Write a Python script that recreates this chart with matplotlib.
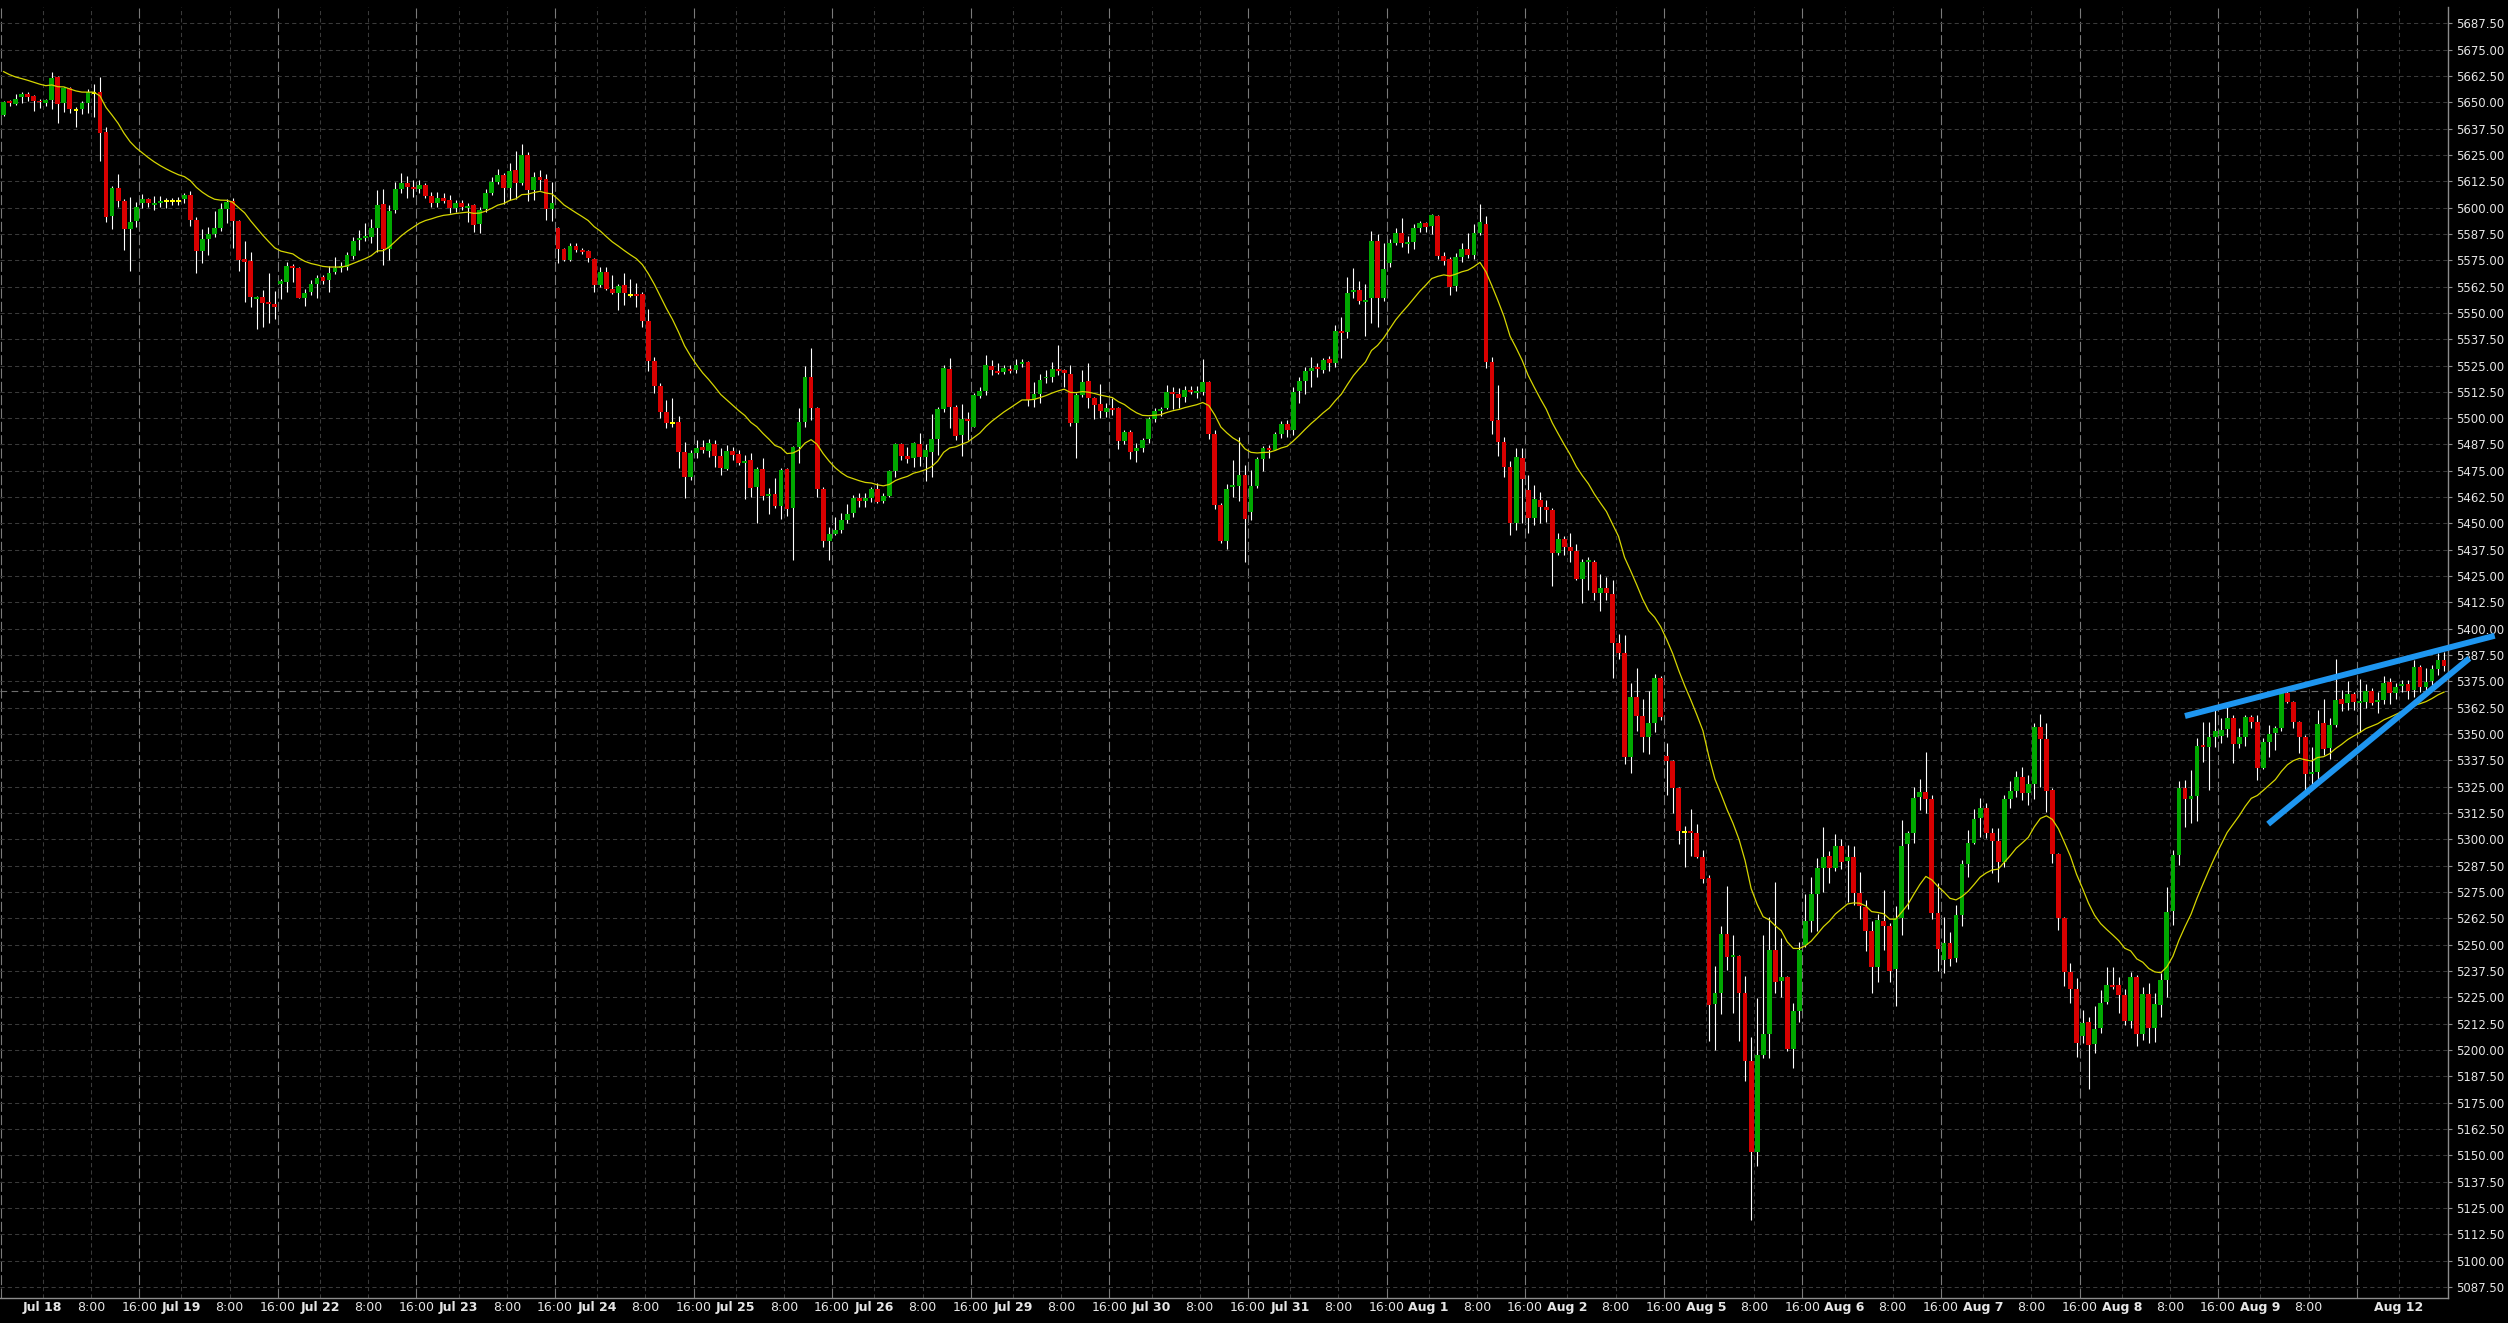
#!/usr/bin/env python3
"""Hourly candlestick chart, Jul 18 - Aug 12, with EMA(20) and two trend lines."""

import matplotlib

matplotlib.use("Agg")
import matplotlib.pyplot as plt
import numpy as np

# hourly bars, 23 per session; first 7 bars are the Jul 17 evening session
opens = [
    5643.9, 5650.3, 5649.2, 5652.3, 5654.0, 5653.0, 5650.7,
    5649.8, 5651.1, 5662.0, 5649.8, 5656.8, 5646.5, 5646.8, 5649.8, 5654.5, 5654.9, 5635.9, 5596.2, 5609.3, 5603.1, 5589.8, 5593.6, 5602.2, 5604.0, 5601.5, 5602.3, 5603.3, 5603.3, 5603.3,
    5604.1, 5606.0, 5594.1, 5579.4, 5585.1, 5587.5, 5590.5, 5599.3, 5603.1, 5593.6, 5575.6, 5574.8, 5556.6, 5557.5, 5555.3, 5554.2, 5563.9, 5564.8, 5572.3, 5571.3, 5557.2, 5559.7, 5563.7,
    5567.0, 5565.5, 5569.5, 5571.4, 5571.9, 5577.0, 5584.6, 5585.7, 5586.2, 5590.4, 5601.7, 5580.3, 5598.8, 5608.8, 5611.8, 5609.9, 5608.8, 5610.7, 5605.6, 5602.3, 5604.5, 5603.6, 5599.9,
    5602.3, 5599.9, 5601.2, 5592.3, 5599.3, 5607.0, 5612.3, 5615.4, 5609.4, 5617.8, 5611.5, 5624.9, 5608.3, 5614.5, 5613.5, 5599.3, 5590.4, 5580.3, 5575.1, 5581.7, 5579.8, 5579.4, 5575.6,
    5563.2, 5569.5, 5561.2, 5559.6, 5563.2, 5558.6, 5558.9, 5558.8, 5546.1, 5527.3, 5515.4, 5503.1, 5497.9, 5498.2, 5484.1, 5472.2, 5483.3, 5486.3, 5484.6, 5487.7, 5482.0, 5475.9, 5484.4,
    5482.8, 5478.5, 5480.1, 5467.5, 5475.9, 5463.2, 5464.0, 5458.5, 5475.9, 5457.5, 5486.3, 5498.3, 5519.5, 5505.0, 5466.5, 5441.7, 5445.2, 5446.9, 5451.6, 5454.8, 5462.2, 5460.7, 5462.2,
    5466.5, 5460.7, 5463.2, 5475.1, 5487.7, 5482.0, 5480.9, 5487.7, 5481.7, 5484.1, 5490.1, 5504.3, 5523.3, 5505.5, 5492.0, 5499.6, 5496.0, 5510.7, 5512.9, 5524.7, 5522.4, 5522.1, 5523.2,
    5522.9, 5525.7, 5526.8, 5508.6, 5511.5, 5518.9, 5519.7, 5523.3, 5522.9, 5520.9, 5497.8, 5511.0, 5517.6, 5509.7, 5506.7, 5502.8, 5505.0, 5505.0, 5489.3, 5493.6, 5484.6, 5485.7, 5490.1,
    5499.6, 5503.4, 5504.9, 5512.4, 5511.5, 5509.9, 5513.4, 5512.1, 5512.6, 5517.2, 5492.5, 5458.8, 5441.7, 5467.2, 5468.0, 5473.0, 5455.6, 5468.0, 5480.6, 5485.8, 5484.9, 5492.5, 5497.2,
    5494.4, 5512.7, 5517.6, 5522.4, 5524.3, 5522.9, 5528.1, 5526.3, 5541.4, 5541.1, 5559.7, 5560.8, 5555.4, 5556.9, 5584.1, 5556.9, 5573.5, 5583.3, 5587.7, 5582.8, 5583.8, 5590.4, 5592.8,
    5591.4, 5596.1, 5577.1, 5575.4, 5562.7, 5576.7, 5580.3, 5577.4, 5587.7, 5592.2, 5526.8, 5499.1, 5488.8, 5477.0, 5450.4, 5481.2, 5465.9, 5452.4, 5461.1, 5457.7, 5456.4, 5436.1, 5442.6,
    5438.7, 5437.1, 5423.6, 5431.6, 5431.9, 5417.1, 5419.5, 5416.5, 5393.1, 5388.5, 5339.1, 5367.8, 5358.5, 5348.8, 5355.1, 5376.5, 5339.5, 5337.1, 5324.5, 5303.5, 5303.9, 5302.9, 5291.9,
    5281.5, 5221.7, 5227.1, 5255.1, 5244.1, 5244.5, 5227.1, 5194.7, 5151.5, 5197.5, 5207.5, 5247.5, 5232.7, 5234.5, 5200.7, 5218.7, 5250.1, 5261.5, 5274.1, 5286.5, 5292.1, 5286.5, 5296.7,
    5289.9, 5291.5, 5274.7, 5267.7, 5256.7, 5239.5, 5261.5, 5258.7, 5238.7, 5262.5, 5297.7, 5303.1, 5320.1, 5322.6, 5319.0, 5265.2, 5242.8, 5250.6, 5243.8, 5264.1, 5288.3, 5298.1, 5310.0,
    5314.8, 5303.2, 5299.2, 5289.4, 5319.2, 5323.1, 5329.5, 5321.9, 5326.3, 5353.5, 5347.7, 5323.5, 5293.1, 5262.8, 5237.2, 5229.0, 5206.7, 5213.5, 5202.7, 5210.6, 5223.0, 5230.9, 5230.9,
    5226.1, 5213.9, 5234.8, 5207.6, 5226.6, 5210.3, 5221.4, 5233.2, 5266.2, 5292.6, 5324.6, 5319.2, 5320.6, 5344.8, 5344.0, 5348.8, 5349.2, 5352.4, 5357.8, 5345.1, 5348.8, 5358.3, 5355.6,
    5334.0, 5346.4, 5350.6, 5353.0, 5369.3, 5365.4, 5355.9, 5348.8, 5330.9, 5332.1, 5355.1, 5343.5, 5354.3, 5366.5, 5364.6, 5369.0, 5364.9, 5365.4, 5370.6, 5365.1, 5366.2, 5374.9, 5369.3,
    5372.8, 5373.8, 5370.9, 5382.0, 5372.5, 5375.2, 5380.9, 5385.2,
]
highs = [
    5650.7, 5651.0, 5654.0, 5654.7, 5654.7, 5653.4, 5651.5,
    5651.7, 5664.4, 5662.5, 5657.4, 5657.2, 5647.9, 5650.7, 5656.3, 5658.7, 5662.0, 5638.1, 5610.0, 5615.9, 5604.1, 5605.0, 5602.6, 5606.3, 5604.4, 5605.5, 5605.5, 5604.4, 5604.4, 5605.2,
    5606.8, 5607.7, 5595.7, 5589.8, 5590.9, 5598.4, 5602.0, 5604.1, 5604.7, 5594.1, 5584.1, 5578.9, 5558.0, 5560.8, 5568.8, 5560.6, 5566.0, 5574.2, 5573.2, 5571.9, 5561.2, 5565.6, 5567.8,
    5567.8, 5572.3, 5576.7, 5574.0, 5578.9, 5585.8, 5589.3, 5592.5, 5594.4, 5608.3, 5608.8, 5601.2, 5612.3, 5616.5, 5615.0, 5613.1, 5613.1, 5611.5, 5607.4, 5607.4, 5606.7, 5605.8, 5603.6,
    5603.6, 5602.0, 5601.7, 5600.4, 5608.6, 5614.6, 5618.1, 5616.5, 5621.3, 5626.8, 5630.2, 5626.2, 5617.0, 5617.8, 5615.9, 5612.3, 5590.9, 5581.0, 5583.3, 5583.0, 5580.6, 5579.8, 5575.9,
    5571.9, 5571.9, 5568.0, 5563.7, 5568.8, 5566.2, 5564.0, 5560.0, 5551.7, 5529.2, 5516.5, 5508.6, 5509.4, 5501.0, 5488.8, 5484.9, 5489.6, 5489.6, 5490.0, 5489.6, 5485.7, 5487.1, 5486.5,
    5484.9, 5482.5, 5483.3, 5476.9, 5480.9, 5466.7, 5471.4, 5476.2, 5476.2, 5486.8, 5504.7, 5524.8, 5533.1, 5505.5, 5467.5, 5448.5, 5453.2, 5454.8, 5459.2, 5463.5, 5464.3, 5464.3, 5467.5,
    5469.0, 5464.3, 5475.4, 5488.4, 5488.4, 5486.5, 5488.8, 5492.8, 5487.7, 5501.8, 5505.5, 5525.2, 5528.7, 5506.2, 5506.7, 5503.1, 5512.1, 5514.9, 5530.0, 5527.6, 5526.0, 5525.2, 5525.2,
    5527.9, 5528.1, 5527.3, 5517.3, 5520.9, 5522.9, 5526.8, 5534.7, 5523.5, 5525.2, 5511.8, 5522.9, 5526.0, 5509.9, 5516.2, 5507.0, 5509.4, 5505.1, 5494.4, 5494.4, 5488.0, 5490.4, 5500.7,
    5504.7, 5505.1, 5515.7, 5514.9, 5514.2, 5515.3, 5515.4, 5515.3, 5527.9, 5517.8, 5494.4, 5459.6, 5468.6, 5480.1, 5491.2, 5477.8, 5475.4, 5481.7, 5486.9, 5487.2, 5493.6, 5498.6, 5499.1,
    5514.9, 5519.7, 5524.4, 5529.2, 5526.3, 5528.7, 5529.6, 5544.2, 5548.2, 5566.8, 5571.1, 5565.3, 5563.5, 5588.8, 5587.4, 5583.0, 5585.1, 5590.4, 5594.9, 5586.5, 5592.2, 5593.7, 5593.3,
    5596.9, 5596.4, 5579.0, 5576.7, 5578.6, 5583.0, 5587.7, 5592.0, 5601.5, 5596.0, 5529.2, 5515.7, 5491.2, 5479.8, 5486.0, 5486.0, 5473.0, 5468.3, 5465.1, 5461.1, 5457.2, 5445.3, 5444.2,
    5445.3, 5440.1, 5433.0, 5434.2, 5432.7, 5426.0, 5424.7, 5423.0, 5397.5, 5397.1, 5374.1, 5381.5, 5366.5, 5370.7, 5378.5, 5377.5, 5345.7, 5337.5, 5325.0, 5306.5, 5314.5, 5307.5, 5295.1,
    5283.1, 5240.1, 5258.7, 5277.7, 5254.5, 5245.0, 5235.1, 5206.1, 5224.7, 5254.5, 5263.1, 5279.7, 5253.1, 5235.1, 5222.5, 5251.1, 5274.1, 5282.1, 5291.1, 5306.1, 5294.7, 5302.5, 5300.1,
    5297.5, 5296.7, 5284.7, 5271.1, 5261.5, 5264.5, 5276.1, 5260.1, 5268.5, 5309.1, 5304.1, 5325.1, 5328.5, 5341.6, 5321.1, 5279.5, 5263.3, 5255.9, 5268.9, 5290.2, 5304.5, 5314.3, 5319.5,
    5317.1, 5305.2, 5305.2, 5321.1, 5327.7, 5332.5, 5334.5, 5330.6, 5355.1, 5359.5, 5355.1, 5324.2, 5293.5, 5263.3, 5241.2, 5234.0, 5219.0, 5215.8, 5220.9, 5228.5, 5239.6, 5239.6, 5234.8,
    5228.8, 5237.2, 5235.6, 5230.1, 5231.7, 5226.9, 5236.4, 5277.6, 5295.0, 5327.7, 5328.2, 5332.9, 5348.0, 5355.9, 5355.9, 5361.4, 5357.5, 5363.0, 5359.1, 5352.7, 5359.1, 5359.1, 5359.1,
    5348.0, 5354.3, 5354.0, 5371.2, 5370.9, 5365.9, 5356.4, 5349.6, 5344.0, 5361.4, 5366.9, 5357.5, 5385.5, 5370.9, 5375.2, 5370.1, 5376.1, 5373.8, 5371.7, 5370.1, 5377.6, 5376.5, 5374.1,
    5375.7, 5375.7, 5385.2, 5382.8, 5381.2, 5382.8, 5388.3, 5389.1,
]
lows = [
    5643.6, 5648.0, 5648.8, 5649.5, 5650.7, 5645.8, 5647.4,
    5648.4, 5646.8, 5640.3, 5645.4, 5644.7, 5638.4, 5644.4, 5645.1, 5643.2, 5622.3, 5593.2, 5590.0, 5600.4, 5579.9, 5570.0, 5590.9, 5599.8, 5600.4, 5598.9, 5600.4, 5600.0, 5601.2, 5601.2,
    5602.0, 5591.0, 5569.1, 5573.9, 5577.6, 5586.2, 5588.9, 5592.8, 5581.0, 5570.0, 5555.3, 5552.6, 5542.2, 5543.5, 5545.4, 5547.3, 5556.8, 5560.0, 5564.5, 5556.9, 5553.4, 5558.5, 5557.2,
    5563.6, 5559.9, 5568.4, 5569.5, 5570.3, 5575.4, 5579.8, 5584.1, 5583.0, 5579.0, 5572.7, 5575.1, 5597.2, 5607.0, 5604.4, 5605.2, 5606.7, 5604.4, 5600.4, 5600.1, 5602.0, 5597.2, 5598.0,
    5598.8, 5593.3, 5588.5, 5588.1, 5598.0, 5606.0, 5611.2, 5601.7, 5603.6, 5603.9, 5610.7, 5603.2, 5603.6, 5608.3, 5594.1, 5593.8, 5573.5, 5574.5, 5574.5, 5578.9, 5578.0, 5574.3, 5560.0,
    5562.2, 5560.9, 5559.0, 5551.3, 5553.7, 5557.7, 5552.9, 5543.4, 5522.5, 5511.8, 5500.2, 5495.2, 5496.0, 5476.2, 5461.9, 5470.6, 5480.9, 5483.3, 5481.7, 5476.9, 5473.0, 5475.4, 5480.1,
    5477.8, 5461.5, 5462.4, 5450.1, 5461.1, 5454.3, 5457.2, 5452.0, 5453.5, 5432.6, 5478.9, 5496.0, 5499.1, 5462.7, 5439.0, 5432.7, 5444.5, 5445.3, 5450.4, 5453.2, 5458.0, 5458.0, 5460.3,
    5459.8, 5459.5, 5462.7, 5472.2, 5480.1, 5478.9, 5476.9, 5477.3, 5470.3, 5471.9, 5482.5, 5503.1, 5495.2, 5489.6, 5482.0, 5489.6, 5495.7, 5509.4, 5511.0, 5520.5, 5520.9, 5520.9, 5521.3,
    5521.3, 5524.4, 5505.8, 5505.1, 5507.3, 5516.5, 5517.3, 5520.5, 5515.0, 5496.3, 5481.2, 5509.9, 5504.7, 5499.4, 5499.9, 5500.4, 5501.5, 5485.2, 5487.7, 5480.4, 5479.3, 5484.1, 5488.4,
    5498.3, 5501.0, 5504.2, 5504.2, 5504.7, 5507.5, 5511.5, 5509.6, 5511.0, 5490.0, 5456.7, 5440.9, 5437.9, 5462.7, 5460.8, 5431.9, 5451.6, 5466.7, 5475.1, 5480.9, 5484.9, 5490.4, 5490.9,
    5492.0, 5507.3, 5511.5, 5514.6, 5519.7, 5521.6, 5522.5, 5524.1, 5528.4, 5537.9, 5557.2, 5554.2, 5539.1, 5545.3, 5543.4, 5555.8, 5571.6, 5582.2, 5581.1, 5578.6, 5580.3, 5588.5, 5588.5,
    5587.4, 5575.4, 5572.7, 5558.5, 5560.4, 5574.1, 5575.9, 5575.4, 5586.9, 5523.6, 5492.5, 5482.2, 5472.2, 5444.5, 5446.9, 5450.1, 5445.6, 5449.3, 5450.1, 5450.8, 5420.5, 5435.0, 5435.0,
    5431.9, 5423.2, 5412.4, 5418.4, 5413.7, 5408.6, 5413.5, 5376.7, 5385.5, 5335.7, 5331.5, 5351.5, 5341.5, 5340.7, 5351.1, 5356.7, 5321.1, 5312.5, 5297.9, 5287.1, 5292.1, 5291.1, 5279.5,
    5204.1, 5200.1, 5217.1, 5238.1, 5217.5, 5204.5, 5185.5, 5119.5, 5145.1, 5196.1, 5196.1, 5227.1, 5225.1, 5199.5, 5191.5, 5213.5, 5249.1, 5256.1, 5256.5, 5275.1, 5279.1, 5285.1, 5286.1,
    5270.1, 5269.1, 5262.1, 5247.1, 5227.1, 5232.1, 5247.5, 5232.1, 5220.7, 5254.7, 5267.1, 5298.1, 5314.1, 5312.4, 5262.2, 5237.7, 5236.7, 5240.1, 5241.9, 5258.9, 5282.3, 5297.8, 5301.3,
    5300.5, 5284.2, 5279.9, 5286.7, 5314.8, 5320.3, 5318.7, 5316.3, 5319.2, 5324.7, 5313.2, 5288.6, 5257.0, 5230.4, 5222.2, 5196.9, 5203.2, 5181.3, 5198.4, 5207.9, 5221.9, 5228.8, 5217.7,
    5211.9, 5210.3, 5201.9, 5204.8, 5203.2, 5204.0, 5215.8, 5225.4, 5259.4, 5287.9, 5306.0, 5307.6, 5308.9, 5336.9, 5323.4, 5344.0, 5345.6, 5348.8, 5336.4, 5343.2, 5344.5, 5352.7, 5328.2,
    5333.3, 5339.3, 5342.4, 5351.4, 5364.6, 5353.0, 5341.2, 5323.4, 5325.8, 5327.4, 5340.1, 5338.0, 5353.5, 5360.9, 5361.4, 5361.4, 5351.1, 5362.2, 5363.8, 5359.9, 5364.3, 5364.3, 5366.6,
    5370.1, 5366.5, 5367.8, 5370.1, 5369.6, 5373.3, 5378.0, 5380.1,
]
closes = [
    5650.0, 5649.5, 5651.5, 5654.0, 5652.6, 5650.6, 5650.0,
    5651.1, 5661.5, 5649.3, 5656.6, 5646.8, 5646.5, 5649.6, 5654.7, 5654.5, 5635.6, 5595.7, 5609.3, 5603.3, 5589.8, 5593.2, 5600.3, 5604.2, 5602.3, 5602.2, 5602.9, 5603.3, 5603.3, 5603.3,
    5606.0, 5594.3, 5579.4, 5585.1, 5587.6, 5590.5, 5599.3, 5602.8, 5593.8, 5575.3, 5574.2, 5557.4, 5557.7, 5554.9, 5554.4, 5553.0, 5564.9, 5572.3, 5571.6, 5557.2, 5559.6, 5563.7, 5566.7,
    5565.1, 5569.1, 5571.4, 5572.0, 5577.5, 5584.1, 5585.7, 5586.5, 5590.4, 5601.2, 5580.3, 5598.3, 5608.8, 5611.8, 5609.9, 5608.6, 5610.7, 5605.6, 5602.3, 5604.5, 5603.1, 5599.9, 5602.3,
    5600.4, 5600.9, 5591.7, 5598.8, 5607.0, 5612.3, 5615.4, 5609.4, 5617.3, 5611.5, 5624.9, 5608.3, 5614.6, 5613.1, 5599.3, 5602.3, 5580.3, 5575.1, 5581.7, 5579.8, 5578.9, 5576.0, 5563.2,
    5569.5, 5561.3, 5559.6, 5562.7, 5559.3, 5558.6, 5558.1, 5546.1, 5527.3, 5515.4, 5503.1, 5497.9, 5497.9, 5484.1, 5472.2, 5483.6, 5486.0, 5484.9, 5488.4, 5482.0, 5476.5, 5484.4, 5482.5,
    5478.5, 5479.7, 5467.0, 5475.9, 5463.2, 5464.0, 5458.5, 5475.4, 5457.0, 5486.3, 5498.3, 5519.5, 5505.0, 5466.5, 5441.7, 5445.2, 5447.1, 5451.6, 5454.6, 5462.2, 5460.7, 5461.9, 5466.5,
    5460.3, 5463.2, 5475.1, 5487.7, 5482.0, 5480.8, 5488.0, 5481.7, 5484.9, 5490.1, 5504.3, 5523.8, 5505.5, 5491.7, 5499.4, 5498.6, 5511.0, 5512.9, 5525.2, 5522.9, 5521.6, 5523.6, 5522.5,
    5525.2, 5526.8, 5508.6, 5511.5, 5518.1, 5519.7, 5523.3, 5522.5, 5521.6, 5497.8, 5511.0, 5517.3, 5509.7, 5506.2, 5503.4, 5505.0, 5503.9, 5489.3, 5493.6, 5484.1, 5485.7, 5489.6, 5499.6,
    5503.4, 5504.3, 5512.4, 5511.5, 5509.7, 5513.4, 5512.4, 5513.0, 5517.2, 5492.5, 5458.8, 5441.7, 5466.4, 5468.0, 5473.0, 5452.1, 5468.0, 5480.6, 5485.8, 5484.9, 5492.5, 5497.2, 5494.4,
    5512.4, 5517.6, 5522.4, 5523.6, 5523.3, 5527.6, 5526.3, 5541.4, 5540.6, 5559.2, 5560.8, 5555.8, 5555.7, 5584.1, 5557.2, 5570.8, 5583.0, 5587.7, 5583.0, 5583.8, 5590.1, 5592.8, 5590.9,
    5596.4, 5577.1, 5574.7, 5562.4, 5576.7, 5580.3, 5577.4, 5587.7, 5593.3, 5526.8, 5498.8, 5488.8, 5477.0, 5450.4, 5481.4, 5471.3, 5452.4, 5461.4, 5458.0, 5456.4, 5436.1, 5442.6, 5438.7,
    5437.0, 5423.6, 5431.9, 5432.4, 5417.1, 5419.5, 5417.1, 5393.1, 5388.5, 5339.1, 5367.8, 5358.5, 5348.8, 5355.1, 5376.5, 5358.1, 5337.1, 5324.5, 5303.9, 5303.5, 5302.9, 5291.9, 5281.1,
    5221.5, 5227.1, 5255.1, 5244.1, 5245.1, 5227.1, 5194.7, 5151.5, 5197.5, 5207.5, 5247.5, 5232.5, 5234.7, 5200.7, 5218.7, 5247.7, 5261.5, 5274.1, 5286.5, 5291.5, 5286.5, 5296.7, 5289.5,
    5291.9, 5274.7, 5268.5, 5256.7, 5239.5, 5261.7, 5258.7, 5237.7, 5262.5, 5297.1, 5303.1, 5319.9, 5322.7, 5319.2, 5265.2, 5248.0, 5250.6, 5243.2, 5264.1, 5288.3, 5298.1, 5309.7, 5315.1,
    5303.2, 5299.2, 5289.4, 5319.2, 5323.1, 5329.5, 5321.9, 5326.3, 5353.5, 5347.7, 5323.1, 5293.1, 5262.8, 5237.2, 5229.0, 5203.2, 5213.0, 5202.4, 5210.0, 5222.5, 5230.9, 5230.1, 5226.1,
    5213.9, 5234.8, 5207.6, 5226.6, 5210.3, 5221.9, 5233.2, 5265.7, 5292.6, 5324.6, 5319.2, 5320.6, 5344.5, 5343.7, 5348.8, 5351.5, 5351.9, 5357.8, 5345.1, 5348.8, 5358.3, 5355.6, 5333.7,
    5346.4, 5350.0, 5352.8, 5369.3, 5365.4, 5355.9, 5348.8, 5330.9, 5332.1, 5354.8, 5342.9, 5354.3, 5366.2, 5364.1, 5369.0, 5365.4, 5365.9, 5370.6, 5364.9, 5366.2, 5374.1, 5369.6, 5372.2,
    5373.6, 5370.6, 5382.0, 5372.5, 5374.9, 5380.9, 5385.2, 5382.5,
]

day_labels = ["Jul 18", "Jul 19", "Jul 22", "Jul 23", "Jul 24", "Jul 25", "Jul 26", "Jul 29",
              "Jul 30", "Jul 31", "Aug 1", "Aug 2", "Aug 5", "Aug 6", "Aug 7", "Aug 8",
              "Aug 9", "Aug 12"]
hour_labels = ["8:00", "16:00"]

ema_seed = 5664.5  # indicator value at the first bar
ema_period = 20

price_line = 5370.5
upper_line_x = [362.0, 413.4]
upper_line_y = [5358.6, 5396.7]
lower_line_x = [375.8, 409.2]
lower_line_y = [5307.3, 5386.0]

GREEN = "#00a800"
RED = "#d80000"
DOJI = "#ffff00"
GRID = "#3a3a3a"
SEP = "#7a7a7a"
TEXT = "#e6e6e6"

o = np.array(opens)
h = np.array(highs)
l = np.array(lows)
c = np.array(closes)
x = np.arange(len(c))

alpha = 2 / (ema_period + 1)
ema = [ema_seed]
for price in c[1:]:
    ema.append(ema[-1] + alpha * (price - ema[-1]))

fig = plt.figure(figsize=(25.08, 13.23), dpi=100, facecolor="black")
ax = fig.add_axes([0, 25 / 1323, 2448 / 2508, 1291 / 1323])
ax.set_facecolor("black")
ax.set_xlim(-0.6, 405.65)
ax.set_ylim(5082.3, 5695.2)

# horizontal grid
ax.set_yticks(np.arange(5087.5, 5690, 12.5))
ax.yaxis.grid(True, color=GRID, lw=0.75, ls=(0, (4, 3)), zorder=0)

# vertical grid + time labels; session separators sit at 16:00
ticks, labels, bold = [], [], []
ax.axvline(-0.5, color=SEP, lw=0.8, ls=(0, (9, 3)), zorder=0)
for d, name in enumerate(day_labels):
    start = 7 + 23 * d
    for k, (off, text) in enumerate(zip((0, 8, 16), [name] + hour_labels)):
        pos = start + off - 0.5
        if pos > 405:
            continue
        sep = off == 16
        ax.axvline(pos, color=SEP if sep else GRID, lw=0.8 if sep else 0.75,
                   ls=(0, (9, 3)) if sep else (0, (4, 3)), zorder=0)
        if name == "Aug 9" and off == 16:
            continue
        ticks.append(pos)
        labels.append(text)
        bold.append(k == 0)

ax.axhline(price_line, color="#6e6e6e", lw=0.8, ls=(0, (6, 4)), zorder=1)

# candles
ax.vlines(x, l, h, color="white", lw=0.8, zorder=3)
diff = c - o
body = np.abs(diff)
height = np.maximum(body, 0.9)
bottom = np.minimum(o, c) - (height - body) / 2
colors = np.where(diff > 0.05, GREEN, np.where(diff < -0.05, RED, DOJI))
ax.bar(x, height, bottom=bottom, width=0.8, color=colors, linewidth=0, zorder=4)

ax.plot(x, ema, color="#d6d600", lw=0.9, zorder=5)

for lx, ly in ((upper_line_x, upper_line_y), (lower_line_x, lower_line_y)):
    ax.plot(lx, ly, color="#1e96f0", lw=4.3, solid_capstyle="butt", clip_on=False, zorder=6)

ax.set_xticks(ticks, labels)
for lab, b in zip(ax.get_xticklabels(), bold):
    lab.set_fontweight("bold" if b else "normal")
ax.tick_params(axis="x", length=0, pad=2.5, labelsize=9, labelcolor=TEXT)

ax.yaxis.tick_right()
ax.set_yticklabels([f"{v:.2f}" for v in np.arange(5087.5, 5690, 12.5)])
ax.tick_params(axis="y", length=3, pad=2.5, labelsize=8.5, color="#8c8c8c", labelcolor=TEXT)

for side in ("left", "top"):
    ax.spines[side].set_visible(False)
for side in ("right", "bottom"):
    ax.spines[side].set_color("#8c8c8c")
    ax.spines[side].set_linewidth(1.0)

fig.savefig("out.png", dpi=100, facecolor="black")
